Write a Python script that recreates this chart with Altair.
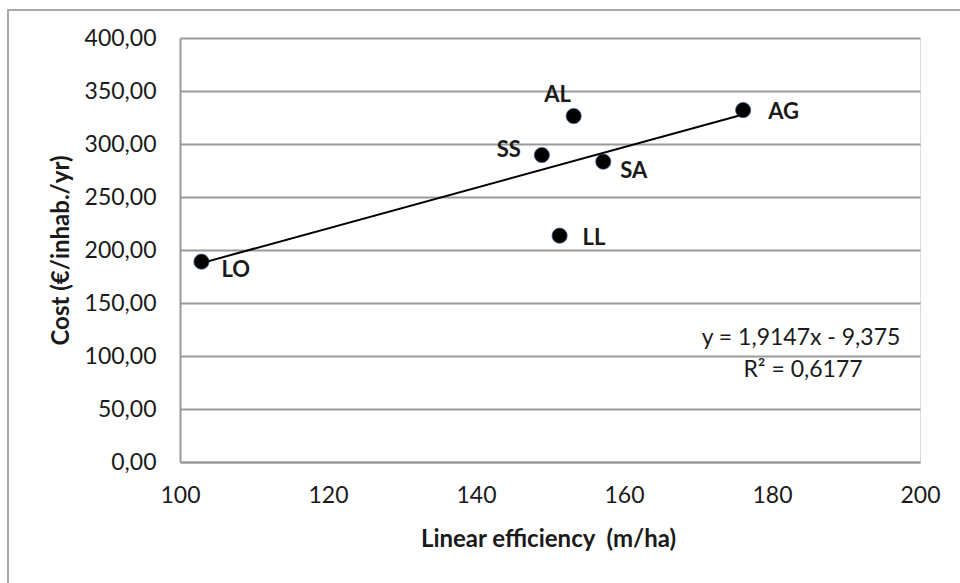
import altair as alt
import pandas as pd

# ---- data ----
labels = ["LO", "SS", "AL", "AG", "SA", "LL"]
efficiency = [102.9, 148.9, 153.2, 176.1, 157.2, 151.3]
cost = [189.0, 289.6, 326.4, 332.0, 283.3, 213.5]

slope = 1.9147
intercept = -9.375
eq_line1 = "y = 1,9147x - 9,375"
eq_line2 = "R² = 0,6177"

x_ticks = [100, 120, 140, 160, 180, 200]
y_ticks = [0, 50, 100, 150, 200, 250, 300, 350, 400]

# label placement (style): dx, dy, align
placement = {
    "LO": (20, 8, "left"),
    "SS": (-21, -5, "right"),
    "AL": (-16, -21, "center"),
    "AG": (25, 2, "left"),
    "SA": (17, 9, "left"),
    "LL": (23, 2, "left"),
}

df = pd.DataFrame({"label": labels, "eff": efficiency, "cost": cost})
xmin, xmax = min(efficiency), max(efficiency)
trend = pd.DataFrame({"eff": [xmin, xmax],
                      "cost": [slope * xmin + intercept, slope * xmax + intercept]})

FONT = "Lato"
GRID = "#9a9a9a"

xscale = alt.Scale(domain=[100, 200], nice=False, zero=False)
yscale = alt.Scale(domain=[0, 400], nice=False)

xaxis = alt.Axis(values=x_ticks, format="d", grid=False, ticks=False,
                 domainColor=GRID, domainWidth=2,
                 labelFont=FONT, labelFontSize=23, labelColor="#1a1a1a",
                 labelPadding=22, labelFlush=False,
                 title="Linear efficiency\u00a0\u00a0(m/ha)", titleFont=FONT,
                 titleFontSize=24, titleFontWeight="bold", titleColor="#1a1a1a",
                 titleX=368, titleY=77, titleBaseline="middle", titleAlign="center")

yaxis = alt.Axis(values=y_ticks, grid=True, gridColor=GRID, gridWidth=2,
                 ticks=False, domainColor=GRID, domainWidth=2,
                 labelExpr="replace(format(datum.value, '.2f'), '.', ',')",
                 labelFont=FONT, labelFontSize=23, labelColor="#1a1a1a",
                 labelPadding=24, labelFlush=False,
                 title="Cost (€/inhab./yr)", titleFont=FONT, titleFontSize=24,
                 titleFontWeight="bold", titleColor="#1a1a1a",
                 titleAngle=-90, titleX=-119, titleY=212,
                 titleBaseline="middle", titleAlign="center")

X = alt.X("eff:Q", scale=xscale, axis=xaxis)
Y = alt.Y("cost:Q", scale=yscale, axis=yaxis)

base = alt.Chart(df)

points = base.mark_circle(size=230, opacity=1, color="black",
                          stroke="#3a5a8a", strokeWidth=0.8).encode(x=X, y=Y)

line = alt.Chart(trend).mark_line(color="black", strokeWidth=2).encode(x=X, y=Y)

text_layers = []
for lab, (dx, dy, al) in placement.items():
    text_layers.append(
        base.transform_filter(alt.datum.label == lab).mark_text(
            font=FONT, fontSize=22, fontWeight="bold", color="#1a1a1a",
            dx=dx, dy=dy, align=al, baseline="middle").encode(
            x=X, y=Y, text="label:N")
    )

eq1 = alt.Chart(pd.DataFrame({"t": [eq_line1]})).mark_text(
    font=FONT, fontSize=23, color="#1a1a1a", align="center", baseline="middle"
).encode(x=alt.value(621), y=alt.value(300), text="t:N")
eq2 = alt.Chart(pd.DataFrame({"t": [eq_line2]})).mark_text(
    font=FONT, fontSize=23, color="#1a1a1a", align="center", baseline="middle"
).encode(x=alt.value(623), y=alt.value(332), text="t:N")

frame = alt.Chart(pd.DataFrame({"a": [0]})).mark_rect(
    fill=None, stroke="#a8a8a8", strokeWidth=2
).encode(
    x=alt.value(-172), x2=alt.value(800),
    y=alt.value(-28), y2=alt.value(600),
)

chart = alt.layer(points, line, *text_layers, eq1, eq2, frame).properties(
    width=740, height=424,
    autosize=alt.AutoSizeParams(type="none"),
    padding={"left": 180, "top": 38, "right": 40, "bottom": 121},
).configure_view(stroke=None).configure(background="white")

chart.save("out.html", embed_options={"renderer": "svg", "actions": False})
